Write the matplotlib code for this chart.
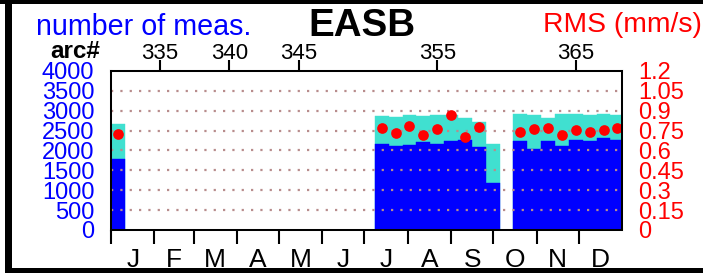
import matplotlib
matplotlib.use('Agg')
import matplotlib.pyplot as plt
import numpy as np
from matplotlib.patches import Rectangle

plt.rcParams['font.family'] = ['Liberation Sans', 'DejaVu Sans']

# ---- data ----
arcs = [332, 351, 352, 353, 354, 355, 356, 357, 358, 359,
        361, 362, 363, 364, 365, 366, 367, 368]
n_total = [2658, 2860, 2843, 2886, 2870, 2880, 2886, 2827, 2725, 2152,
           2911, 2893, 2827, 2911, 2911, 2900, 2911, 2880]
n_used = [1772, 2170, 2118, 2135, 2200, 2160, 2228, 2253, 2093, 1190,
          2235, 2032, 2235, 2108, 2253, 2235, 2320, 2270]
rms = [0.727, 0.772, 0.729, 0.782, 0.716, 0.762, 0.864, 0.701, 0.775, np.nan,
       0.737, 0.759, 0.772, 0.716, 0.757, 0.737, 0.752, 0.772]

count_ticks = [0, 500, 1000, 1500, 2000, 2500, 3000, 3500, 4000]
rms_ticks = [0, 0.15, 0.3, 0.45, 0.6, 0.75, 0.9, 1.05, 1.2]
rms_labels = ['0', '0.15', '0.3', '0.45', '0.6', '0.75', '0.9', '1.05', '1.2']
arc_tick_labels = [335, 340, 345, 355, 365]
month_labels = ['J', 'F', 'M', 'A', 'M', 'J', 'J', 'A', 'S', 'O', 'N', 'D']
month_lengths = [31, 28, 31, 30, 31, 30, 31, 31, 30, 31, 30, 31]
month_starts = list(np.cumsum([0] + month_lengths[:-1]))

ARC_REF, DAY_REF, ARC_LEN = 335, 35.0, 9.9


def arc_to_day(a):
    return DAY_REF + (np.asarray(a, dtype=float) - ARC_REF) * ARC_LEN


W, H = 703, 273
fig = plt.figure(figsize=(W / 100, H / 100), dpi=100)


def fx(px):
    return px / W


def fy(py):
    return 1 - py / H


ax = fig.add_axes([fx(111), fy(229.9), (622 - 111) / W, (229.9 - 70.9) / H])
x = arc_to_day(arcs)
ax.bar(x, n_total, width=ARC_LEN, color='#40e0d0', edgecolor='#40e0d0',
       linewidth=0.3, zorder=1)
ax.bar(x, n_used, width=ARC_LEN, color='#0000ff', edgecolor='#0000ff',
       linewidth=0.3, zorder=1.1)
for v in count_ticks[1:-1]:
    ax.axhline(v, color='#b88c8c', lw=1.6, linestyle=(0, (1, 3.2)), zorder=2)

ax.set_xlim(0, 365)
ax.set_ylim(0, 4000)
ax.set_yticks(count_ticks)
ax.set_yticklabels([str(v) for v in count_ticks])
ax.tick_params(axis='y', length=0, pad=12, labelsize=17, labelcolor='#0000ff')
ax.set_xticks(month_starts)
ax.set_xticklabels([])
ax.tick_params(axis='x', direction='out', length=10, width=1.5, color='black')
for sp in ax.spines.values():
    sp.set_linewidth(1.45)

for s, L, lab in zip(month_starts, month_lengths, month_labels):
    ax.text(s + L / 2, -0.235, lab, transform=ax.get_xaxis_transform(),
            ha='center', va='baseline', fontsize=19, color='black')

sec = ax.secondary_xaxis('top')
sec.set_xticks(arc_to_day(arc_tick_labels))
sec.set_xticklabels([])
sec.tick_params(direction='out', length=8, width=1.5, color='black')
sec.spines['top'].set_linewidth(1.45)
for a in arc_tick_labels:
    ax.text(float(arc_to_day(a)), 1.073, str(a), transform=ax.get_xaxis_transform(),
            ha='center', va='baseline', fontsize=16, color='black')

ax2 = ax.twinx()
ax2.set_ylim(0, 1.2)
ax2.plot(x, rms, 'o', ms=7.7, color='#ff0000', mec='none', zorder=2)
ax2.set_yticks(rms_ticks)
ax2.set_yticklabels(rms_labels)
ax2.tick_params(axis='y', length=0, pad=11.5, labelsize=17, labelcolor='#ff0000')
for sp in ax2.spines.values():
    sp.set_linewidth(1.45)

fig.text(fx(36), fy(35), 'number of meas.', color='#0000ff', fontsize=20.6,
         ha='left', va='baseline')
fig.text(fx(361.5), fy(36.5), 'EASB', color='black', fontsize=27.7,
         fontweight='bold', ha='center', va='baseline')
fig.text(fx(543.3), fy(31.7), 'RMS (mm/s)', color='#ff0000', fontsize=20.3,
         ha='left', va='baseline')
fig.text(fx(100), fy(58.3), 'arc#', color='black', fontsize=17.5,
         fontweight='bold', ha='right', va='baseline')

# outer frame
fig.add_artist(Rectangle((0, fy(4)), 1, 4 / H, transform=fig.transFigure,
                         color='black', lw=0))
fig.add_artist(Rectangle((fx(5), 0), 7 / W, 1, transform=fig.transFigure,
                         color='black', lw=0))
fig.add_artist(Rectangle((fx(5), 0), 1, 5 / H, transform=fig.transFigure,
                         color='black', lw=0))

fig.savefig('out.png', dpi=100)
